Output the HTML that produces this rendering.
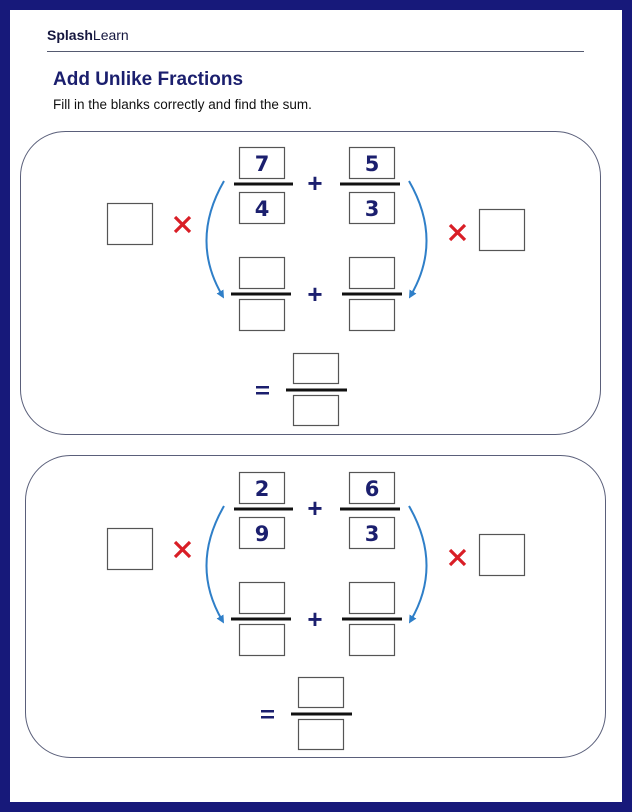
<!DOCTYPE html>
<html><head><meta charset="utf-8"><style>
html,body{margin:0;padding:0;background:#fff}
svg{display:block}
.n{font-family:"DejaVu Sans","Liberation Sans",sans-serif;font-weight:bold;font-size:21px;fill:#1b1f6e;text-anchor:middle}
</style></head><body>
<svg width="632" height="812" viewBox="0 0 632 812" xmlns="http://www.w3.org/2000/svg">
<defs>
<marker id="ah" markerWidth="8" markerHeight="8" refX="4" refY="4" orient="auto" markerUnits="userSpaceOnUse">
<path d="M0,0 L8,4 L0,8 Z" fill="#2f7fc8"/></marker>
<g id="grp">
 <rect x="107.5" y="203.5" width="45" height="41" fill="#fff" stroke="#555" stroke-width="1.2"/>
 <path d="M175,217 L190,232 M190,217 L175,232" stroke="#d91e26" stroke-width="3.2"/>
 <rect x="239.5" y="147.5" width="45" height="31" fill="#fff" stroke="#555" stroke-width="1.2"/>
 <rect x="239.5" y="192.5" width="45" height="31" fill="#fff" stroke="#555" stroke-width="1.2"/>
 <line x1="234" y1="184" x2="293" y2="184" stroke="#111" stroke-width="3"/>
 <rect x="349.5" y="147.5" width="45" height="31" fill="#fff" stroke="#555" stroke-width="1.2"/>
 <rect x="349.5" y="192.5" width="45" height="31" fill="#fff" stroke="#555" stroke-width="1.2"/>
 <line x1="340" y1="184" x2="400" y2="184" stroke="#111" stroke-width="3"/>
 <text x="315" y="192" font-family="Liberation Sans,sans-serif" font-weight="bold" font-size="26" fill="#1b1f6e" text-anchor="middle">+</text>
 <rect x="239.5" y="257.5" width="45" height="31" fill="#fff" stroke="#555" stroke-width="1.2"/>
 <rect x="239.5" y="299.5" width="45" height="31" fill="#fff" stroke="#555" stroke-width="1.2"/>
 <line x1="231" y1="294" x2="291" y2="294" stroke="#111" stroke-width="3"/>
 <rect x="349.5" y="257.5" width="45" height="31" fill="#fff" stroke="#555" stroke-width="1.2"/>
 <rect x="349.5" y="299.5" width="45" height="31" fill="#fff" stroke="#555" stroke-width="1.2"/>
 <line x1="342" y1="294" x2="402" y2="294" stroke="#111" stroke-width="3"/>
 <text x="315" y="303" font-family="Liberation Sans,sans-serif" font-weight="bold" font-size="26" fill="#1b1f6e" text-anchor="middle">+</text>
 <path d="M224,181 Q190,240 222,295" fill="none" stroke="#2f7fc8" stroke-width="2" marker-end="url(#ah)"/>
 <path d="M409,181 Q443,240 411,295" fill="none" stroke="#2f7fc8" stroke-width="2" marker-end="url(#ah)"/>
 <path d="M450,225 L465,240 M465,225 L450,240" stroke="#d91e26" stroke-width="3.2"/>
 <rect x="479.5" y="209.5" width="45" height="41" fill="#fff" stroke="#555" stroke-width="1.2"/>
</g>
<g id="eq">
 <rect x="256" y="386" width="13" height="2.5" fill="#1b1f6e"/>
 <rect x="256" y="392" width="13" height="2.5" fill="#1b1f6e"/>
 <rect x="293.5" y="353.5" width="45" height="30" fill="#fff" stroke="#555" stroke-width="1.2"/>
 <line x1="286" y1="390" x2="347" y2="390" stroke="#111" stroke-width="3"/>
 <rect x="293.5" y="395.5" width="45" height="30" fill="#fff" stroke="#555" stroke-width="1.2"/>
</g>
</defs>
<rect x="0" y="0" width="632" height="812" fill="#17197a"/>
<rect x="10" y="10" width="612" height="792" fill="#fff"/>
<text x="47" y="40" font-family="Liberation Sans,sans-serif" font-size="14" fill="#15173f"><tspan font-weight="bold">Splash</tspan>Learn</text>
<line x1="47" y1="51.5" x2="584" y2="51.5" stroke="#555a70" stroke-width="1"/>
<text x="53" y="85" font-family="Liberation Sans,sans-serif" font-weight="bold" font-size="19" fill="#1b1f6e">Add Unlike Fractions</text>
<text x="53" y="109" font-family="Liberation Sans,sans-serif" font-size="13.5" fill="#111">Fill in the blanks correctly and find the sum.</text>

<rect x="20.5" y="131.5" width="580" height="303" rx="45" fill="#fff" stroke="#5a5f7a" stroke-width="1"/>
<use href="#grp"/>
<use href="#eq"/>
<text class="n" x="262" y="171">7</text>
<text class="n" x="262" y="216">4</text>
<text class="n" x="372" y="171">5</text>
<text class="n" x="372" y="216">3</text>

<rect x="25.5" y="455.5" width="580" height="302" rx="45" fill="#fff" stroke="#5a5f7a" stroke-width="1"/>
<use href="#grp" transform="translate(0,325)"/>
<use href="#eq" transform="translate(5,324)"/>
<text class="n" x="262" y="496">2</text>
<text class="n" x="262" y="541">9</text>
<text class="n" x="372" y="496">6</text>
<text class="n" x="372" y="541">3</text>
</svg>
</body></html>
